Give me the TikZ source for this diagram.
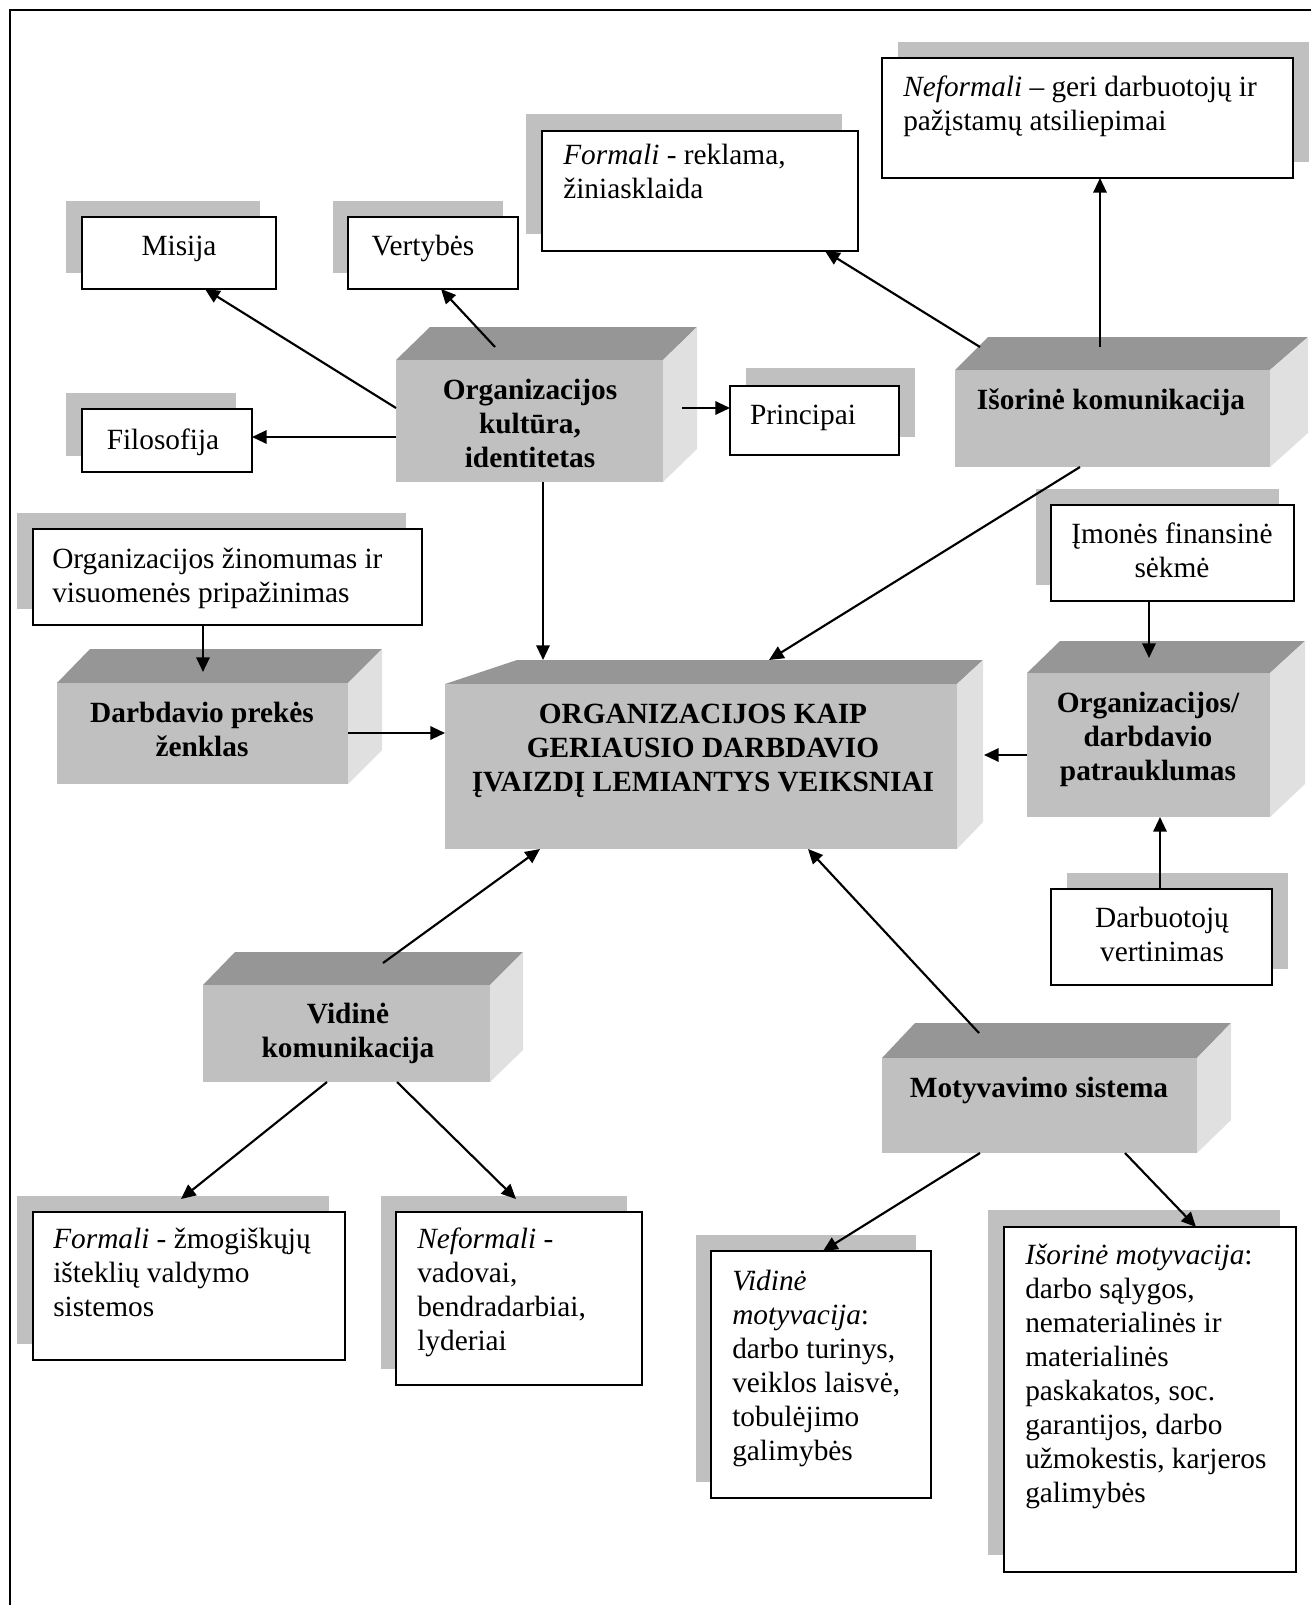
\documentclass[tikz,border=0pt]{standalone}
\usepackage{fontspec}
\setmainfont{Liberation Serif}
\usetikzlibrary{calc,arrows.meta}

\definecolor{faceFront}{HTML}{C0C0C0}
\definecolor{faceTop}{HTML}{969696}
\definecolor{faceSide}{HTML}{E0E0E0}
\definecolor{shadowgrey}{HTML}{C0C0C0}

\tikzset{
  frontface/.style={fill=faceFront, inner sep=0pt, outer sep=0pt},
  whitebox/.style={draw=black, line width=1.4pt, fill=white, inner sep=0pt, outer sep=0pt},
  plain/.style={font=\fontsize{22pt}{25.5pt}\selectfont, inner sep=0pt},
  heavy/.style={font=\fontsize{22pt}{25.5pt}\selectfont\bfseries, inner sep=0pt, align=center},
  arr/.style={line width=1.6pt, -{Triangle[length=11pt,width=10pt]}},
}

% rectangular node from its corners: style, name, x1, y1, x2, y2
\newcommand{\boxnode}[6]{%
  \node[#1, minimum width={(#5-#3)*0.75pt}, minimum height={(#6-#4)*0.75pt}]
    (#2) at ({(#3+#5)/2},{(#4+#6)/2}) {};}

% raised block: name, front x1,y1,x2,y2, back-left x, back-right x, back y, side bottom y
\newcommand{\solidblock}[9]{%
  \fill[faceTop] (#2,#3) -- (#6,#8) -- (#7,#8) -- (#4,#3) -- cycle;
  \fill[faceSide] (#4,#3) -- (#7,#8) -- (#7,#9) -- (#4,#5) -- cycle;
  \boxnode{frontface}{#1}{#2}{#3}{#4}{#5}}

% white box with offset grey shadow: name, x1,y1,x2,y2, shadow dx, dy
\newcommand{\shadowbox}[7]{%
  \fill[shadowgrey] ({#2+#6},{#3+#7}) rectangle ({#4+#6},{#5+#7});
  \boxnode{whitebox}{#1}{#2}{#3}{#4}{#5}}

\begin{document}
\begin{tikzpicture}[x=0.75pt,y=-0.75pt]
\useasboundingbox (0,0) rectangle (1311,1605);

% frame
\draw[line width=1.1pt] (10,1605) -- (10,10) -- (1311,10);

% white boxes
\shadowbox{misija}{82}{217}{276}{289}{-16}{-16}
\shadowbox{vert}{348}{217}{518}{289}{-15}{-16}
\shadowbox{filos}{82}{409}{252}{472}{-16}{-16}
\shadowbox{princ}{730}{386}{899}{455}{16}{-18}
\shadowbox{formr}{542}{131}{858}{251}{-16}{-17}
\shadowbox{neform}{882}{58}{1293}{178}{16}{-16}
\shadowbox{zinom}{33}{529}{422}{625}{-16}{-16}
\shadowbox{imon}{1051}{505}{1294}{601}{-15}{-16}
\shadowbox{darbv}{1051}{889}{1272}{985}{16}{-16}
\shadowbox{formz}{33}{1212}{345}{1360}{-16}{-16}
\shadowbox{neformv}{396}{1212}{642}{1385}{-15}{-16}
\shadowbox{vidm}{711}{1251}{931}{1498}{-15}{-16}
\shadowbox{isorm}{1004}{1227}{1296}{1572}{-16}{-17}

% raised blocks
\solidblock{kult}{396}{360}{663}{482}{430}{697}{327}{449}
\solidblock{isor}{955}{370}{1270}{467}{988}{1308}{337}{433}
\solidblock{darbd}{57}{683}{348}{784}{90}{382}{649}{750}
\solidblock{main}{445}{684}{957}{849}{517}{983}{660}{822}
\solidblock{patr}{1027}{673}{1270}{817}{1060}{1305}{641}{784}
\solidblock{vidk}{203}{985}{490}{1082}{235}{523}{952}{1050}
\solidblock{motyv}{882}{1058}{1197}{1153}{915}{1231}{1023}{1120}

% connectors
\draw[arr] ($(kult.west)+(0,-13)$) -- ($(misija.south)+(26,0)$);
\draw[arr] ($(kult.north)+(-34.5,-13)$) -- ($(vert.south)+(8,0)$);
\draw[arr] ($(kult.west)+(0,16)$) -- ($(filos.east)+(0,-3.5)$);
\draw[arr] ($(kult.east)+(19,-13)$) -- ($(princ.west)+(0,-12.5)$);
\draw[arr] ($(kult.south)+(13.5,0)$) -- ($(main.north)+(-158,-24)$);
\draw[arr] ($(isor.north)+(-132.5,-23)$) -- ($(formr.south)+(125,0)$);
\draw[arr] ($(isor.north)+(-12.5,-23)$) -- ($(neform.south)+(12.5,0)$);
\draw[arr] ($(isor.south)+(-32.5,0)$) -- ($(main.north)+(68,-24)$);
\draw[arr] ($(zinom.south)+(-24.5,0)$) -- ($(darbd.north)+(0.5,-11)$);
\draw[arr] ($(darbd.east)+(0,-0.5)$) -- ($(main.west)+(0,-33.5)$);
\draw[arr] ($(imon.south)+(-23.5,0)$) -- ($(patr.north)+(0.5,-15)$);
\draw[arr] ($(patr.west)+(0,10)$) -- ($(main.east)+(27,-11.5)$);
\draw[arr] ($(darbv.north)+(-1.5,0)$) -- ($(patr.south)+(11.5,0)$);
\draw[arr] ($(vidk.north)+(36.5,-22)$) -- ($(main.south)+(-161,0)$);
\draw[arr] ($(vidk.south)+(-19.5,0)$) -- ($(formz.north)+(-8,-13)$);
\draw[arr] ($(vidk.south)+(50.5,0)$) -- ($(neformv.north)+(-3,-13)$);
\draw[arr] ($(motyv.north)+(-60.5,-25)$) -- ($(main.south)+(107,0)$);
\draw[arr] ($(motyv.south)+(-59.5,0)$) -- ($(vidm.north)+(2,0)$);
\draw[arr] ($(motyv.south)+(85.5,0)$) -- ($(isorm.north)+(46,0)$);

% texts of the white boxes (multi-line texts sit on their last baseline)
\node[plain, anchor=base] (t-misija) at (179,256) {Misija};
\node[plain, anchor=base] (t-vert) at (423,256) {Vertybės};
\node[plain, anchor=base] (t-filos) at (163,449) {Filosofija};
\node[plain, anchor=base] (t-princ) at (803,424) {Principai};
\node[plain, anchor=base west, align=left] (t-formr) at (563,199)
  {\textit{Formali} - reklama,\\žiniasklaida};
\node[plain, anchor=base west, align=left] (t-neform) at (903,131)
  {\textit{Neformali} – geri darbuotojų ir\\pažįstamų atsiliepimai};
\node[plain, anchor=base west, align=left] (t-zinom) at (52,602)
  {Organizacijos žinomumas ir\\visuomenės pripažinimas};
\node[plain, anchor=base, align=center] (t-imon) at (1172,577)
  {Įmonės finansinė\\sėkmė};
\node[plain, anchor=base, align=center] (t-darbv) at (1162,961)
  {Darbuotojų\\vertinimas};
\node[plain, anchor=base west, align=left] (t-formz) at (53,1316)
  {\textit{Formali} - žmogiškųjų\\išteklių valdymo\\sistemos};
\node[plain, anchor=base west, align=left] (t-neformv) at (417,1350)
  {\textit{Neformali} -\\vadovai,\\bendradarbiai,\\lyderiai};
\node[plain, anchor=base west, align=left] (t-vidm) at (732,1460)
  {\textit{Vidinė}\\\textit{motyvacija}:\\darbo turinys,\\veiklos laisvė,\\tobulėjimo\\galimybės};
\node[plain, anchor=base west, align=left] (t-isorm) at (1025,1502)
  {\textit{Išorinė motyvacija}:\\darbo sąlygos,\\nematerialinės ir\\materialinės\\paskakatos, soc.\\garantijos, darbo\\užmokestis, karjeros\\galimybės};

% texts of the raised blocks
\node[heavy, anchor=base] (t-kult) at (530,467) {Organizacijos\\kultūra,\\identitetas};
\node[heavy, anchor=base] (t-isor) at (1111,409) {Išorinė komunikacija};
\node[heavy, anchor=base] (t-darbd) at (202,756) {Darbdavio prekės\\ženklas};
\node[heavy, anchor=base] (t-main) at (703,791)
  {ORGANIZACIJOS KAIP\\GERIAUSIO DARBDAVIO\\ĮVAIZDĮ LEMIANTYS VEIKSNIAI};
\node[heavy, anchor=base] (t-patr) at (1148,780) {Organizacijos/\\darbdavio\\patrauklumas};
\node[heavy, anchor=base] (t-vidk) at (348,1057) {Vidinė\\komunikacija};
\node[heavy, anchor=base] (t-motyv) at (1039,1097) {Motyvavimo sistema};
\end{tikzpicture}
\end{document}
